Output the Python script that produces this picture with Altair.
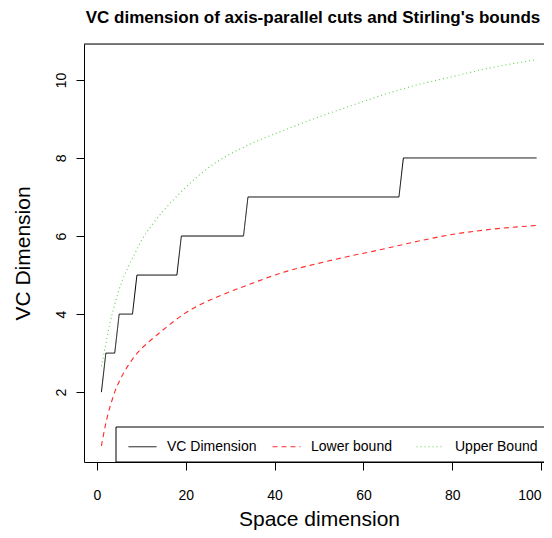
import altair as alt
import pandas as pd

# VC dimension (step function, breakpoints)
vc_x = [1, 2, 4, 5, 8, 9, 18, 19, 33, 34, 68, 69, 99]
vc_y = [2, 3, 3, 4, 4, 5, 5, 6, 6, 7, 7, 8, 8]

# Stirling lower bound
lower_x = [1, 1.8, 2.55, 3.3, 4.05, 5.2, 7, 9.3, 11.9, 15.6, 19.4, 23.2, 26.9, 34.5, 42, 49.5, 56.3, 63, 72, 79.5, 87, 99]
lower_y = [0.62, 1.1, 1.47, 1.76, 2.02, 2.32, 2.68, 3.03, 3.31, 3.66, 3.99, 4.24, 4.43, 4.77, 5.07, 5.29, 5.47, 5.63, 5.86, 6.03, 6.15, 6.27]

# Stirling upper bound
upper_x = [1, 1.8, 2.9, 4, 5.5, 7, 8.5, 10, 12.5, 15, 18.7, 22.4, 26.2, 30, 33.7, 37.4, 41.2, 48.7, 57, 64.5, 72, 79.5, 87, 99]
upper_y = [2.66, 3.12, 3.75, 4.25, 4.8, 5.2, 5.54, 5.88, 6.3, 6.65, 7.1, 7.5, 7.84, 8.1, 8.31, 8.5, 8.67, 9.0, 9.33, 9.62, 9.87, 10.07, 10.27, 10.52]

series_names = ["VC Dimension", "Lower bound", "Upper Bound"]
series_colors = ["#000000", "#FF2A2A", "#61D04F"]
series_dashes = [[1, 0], [5, 4], [1, 3]]

vc_df = pd.DataFrame({"x": vc_x, "y": vc_y, "series": series_names[0]})
bounds_df = pd.concat([
    pd.DataFrame({"x": lower_x, "y": lower_y, "series": series_names[1]}),
    pd.DataFrame({"x": upper_x, "y": upper_y, "series": series_names[2]}),
])

FONT = "Liberation Sans"
W, H = 460, 418
PX_PER_UNIT = 4.4408
X_MIN = -2.92
X_DOMAIN = [X_MIN, X_MIN + W / PX_PER_UNIT]
Y_DOMAIN = [0.21, 10.92]

x_enc = alt.X(
    "x:Q",
    scale=alt.Scale(domain=X_DOMAIN, nice=False, zero=False),
    axis=alt.Axis(
        values=[0, 20, 40, 60, 80, 100], format="d", grid=False,
        domain=True, domainColor="black", domainWidth=1,
        tickSize=8, tickColor="black", labelPadding=18, labelFontSize=14,
        labelFont=FONT, labelColor="black", title="Space dimension",
        titleFont=FONT, titleFontSize=21, titleFontWeight="normal", titleColor="black",
        titleBaseline="alphabetic", titleX=235, titleY=63, titleAnchor="middle",
        labelFlush=5,
    ),
)
y_enc = alt.Y(
    "y:Q",
    scale=alt.Scale(domain=Y_DOMAIN, nice=False, zero=False),
    axis=alt.Axis(
        values=[2, 4, 6, 8, 10], format="d", grid=False,
        domain=True, domainColor="black", domainWidth=1,
        tickSize=8, tickColor="black", labelPadding=11, labelFontSize=14,
        labelFont=FONT, labelColor="black", labelAngle=270, labelAlign="center",
        labelBaseline="alphabetic", title="VC Dimension",
        titleFont=FONT, titleFontSize=21, titleFontWeight="normal", titleColor="black",
        titleAngle=270, titleBaseline="alphabetic", titleX=-55, titleY=H / 2,
        titleAlign="center", labelFlush=False,
    ),
)

legend = alt.Legend(
    title=None, orient="none", direction="horizontal", legendX=44, legendY=388,
    symbolType="stroke", symbolSize=784, symbolStrokeWidth=1,
    labelFont=FONT, labelFontSize=14, labelColor="black", labelOffset=10,
    columnPadding=13, gridAlign="all", padding=0,
    labelLimit=200,
)
color_enc = alt.Color("series:N", scale=alt.Scale(domain=series_names, range=series_colors), legend=legend)
dash_enc = alt.StrokeDash("series:N", scale=alt.Scale(domain=series_names, range=series_dashes), legend=legend)

vc_layer = alt.Chart(vc_df).mark_line(strokeWidth=1, interpolate="linear").encode(
    x=x_enc, y=y_enc, color=color_enc, strokeDash=dash_enc, detail="series:N"
)
bounds_layer = alt.Chart(bounds_df).mark_line(strokeWidth=1.1, interpolate="monotone").encode(
    x=x_enc, y=y_enc, color=color_enc, strokeDash=dash_enc, detail="series:N"
)
# top edge of the plot box (the right edge lies outside the picture, as in the original)
top_edge = alt.Chart(pd.DataFrame({"k": [0]})).mark_rule(color="black", strokeWidth=1).encode(
    x=alt.value(0), x2=alt.value(W), y=alt.value(0)
)
# legend frame, anchored at the bottom-right corner of the plot box like R's "bottomright"
legend_box = alt.Chart(pd.DataFrame({"k": [0]})).mark_rect(
    fill="white", stroke="black", strokeWidth=1
).encode(
    x=alt.value(32), x2=alt.value(W + 20), y=alt.value(383), y2=alt.value(H)
)

chart = (
    alt.layer(vc_layer, bounds_layer, legend_box, top_edge)
    .properties(
        width=W,
        height=H,
        title=alt.TitleParams(
            "VC dimension of axis-parallel cuts and Stirling's bounds",
            font=FONT, fontSize=17, fontWeight="bold", color="black",
            anchor="middle", baseline="alphabetic", offset=4, dx=-1,
        ),
        autosize=alt.AutoSizeParams(type="none"),
        padding={"left": 76, "top": 36, "right": 0, "bottom": 68},
    )
    .configure_view(stroke=None)
    .configure(background="white")
)

chart.save("out.html", embed_options={"renderer": "svg", "actions": False})
